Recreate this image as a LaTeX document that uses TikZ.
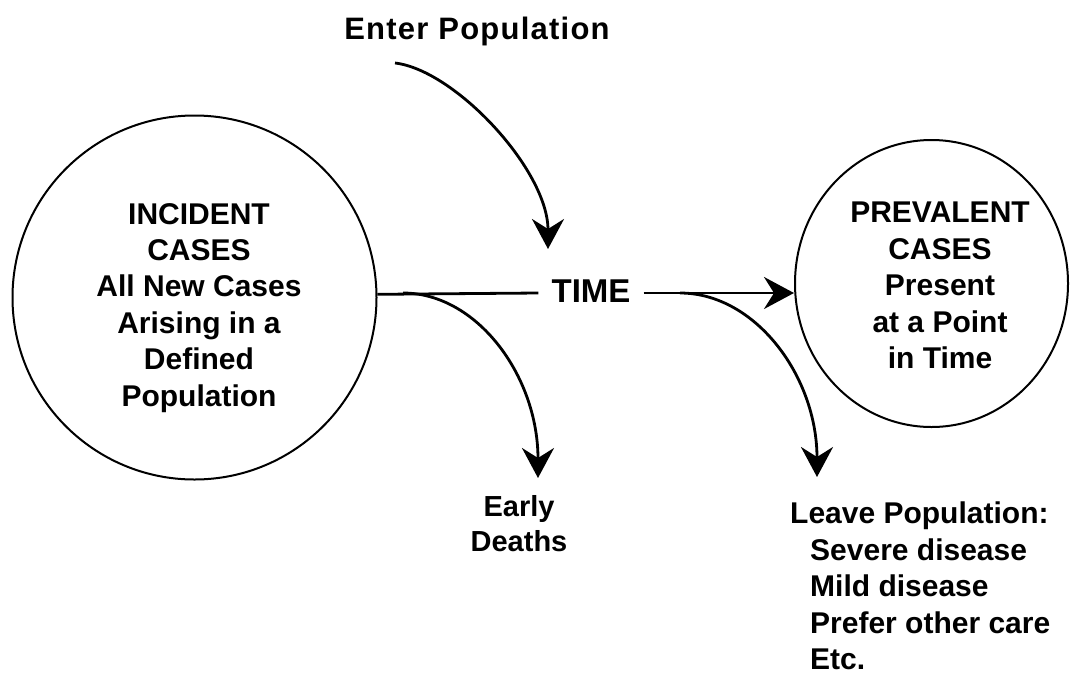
\documentclass[tikz,border=0pt]{standalone}
\usepackage{fontspec}
\setmainfont{Liberation Sans}
\usetikzlibrary{arrows.meta,shapes.geometric}
\begin{document}
\begin{tikzpicture}[x=1pt,y=-1pt,
  lbl/.style={font=\fontsize{30}{36.4}\selectfont\bfseries, inner sep=0pt, align=center},
  ring/.style={draw, line width=2pt, inner sep=0pt},
  flow/.style={line width=2.8pt, -{Stealth[length=30pt,width=32pt,inset=10pt]}},
  plainline/.style={line width=2.8pt}]
\useasboundingbox[fill=white] (0,0) rectangle (1075,675);

% circles
\node[ring, circle, minimum size=364pt] (inc) at (194.5,297.5) {};
\node[ring, ellipse, minimum width=273pt, minimum height=287pt] (prev) at (931.5,283.5) {};

% texts
\node[lbl, anchor=north] (inctxt) at (199,203) {INCIDENT\\CASES\\All New Cases\\Arising in a\\Defined\\Population};
\node[lbl, anchor=north] (prevtxt) at (940,202) {PREVALENT\\CASES\\Present\\at a Point\\in Time};
\node[lbl, anchor=base, font=\fontsize{31}{36}\selectfont\bfseries\addfontfeatures{LetterSpace=4}] (enter) at (477,39.5) {Enter Population};
\node[font=\fontsize{33}{36}\selectfont\bfseries, inner xsep=13pt, inner ysep=0pt, text height=24.3pt, text depth=6.3pt] (time) at (591,293) {TIME};
\node[lbl, anchor=north, font=\fontsize{29}{35}\selectfont\bfseries] (early) at (519,495) {Early\\Deaths};
\node[lbl, anchor=north west, align=left, font=\fontsize{30}{36.5}\selectfont\bfseries] (leave) at (790,502)
  {Leave Population:\\\hspace*{20pt}Severe disease\\\hspace*{20pt}Mild disease\\\hspace*{20pt}Prefer other care\\\hspace*{20pt}Etc.};

% free ends
\coordinate (epStart) at (395,63);
\coordinate (epEnd) at (548,249);
\coordinate (edStart) at (403,293);
\coordinate (edEnd) at (538,478);
\coordinate (lvStart) at (680,293);
\coordinate (lvEnd) at (817,477);

% connectors
\draw[plainline] (inc.1.4) -- (time.west);
\draw[flow] (time.east) -- (time.east -| prev.west);
\draw[flow] (epStart) .. controls (455,70) and (548,170) .. (epEnd);
\draw[flow] (edStart) .. controls (477,293) and (538,376) .. (edEnd);
\draw[flow] (lvStart) .. controls (755,293) and (817,376) .. (lvEnd);
\end{tikzpicture}
\end{document}
